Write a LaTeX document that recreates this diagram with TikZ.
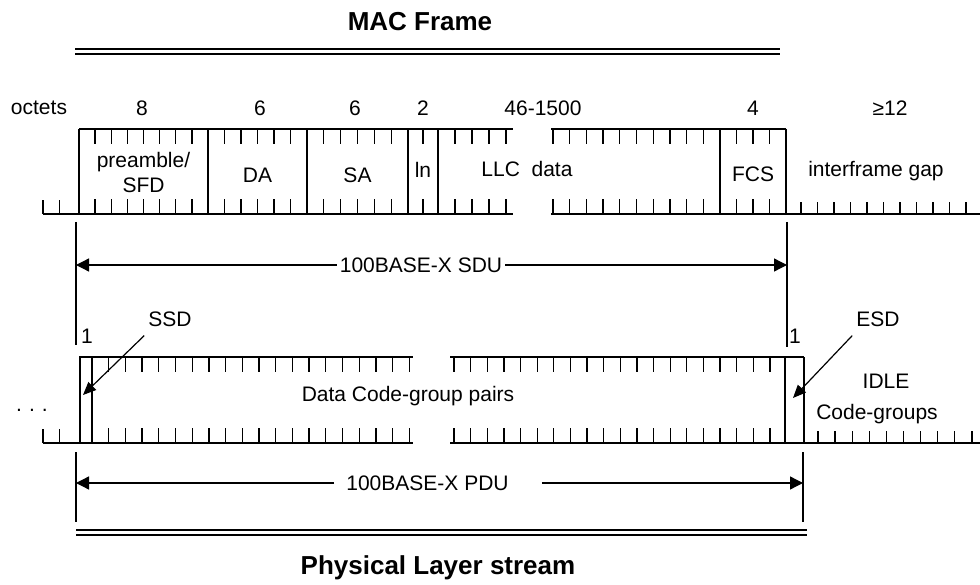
\documentclass[tikz,border=0pt]{standalone}
\usepackage{fontspec}
\setmainfont{Liberation Sans}
\usetikzlibrary{arrows.meta}
\begin{document}
\begin{tikzpicture}[x=1pt,y=-1pt,
  every node/.style={inner sep=0pt, font=\fontsize{21}{25}\selectfont},
  ln/.style={line width=1.3pt},
  dbl/.style={line width=1.2pt},
  titlefont/.style={font=\fontsize{26}{30}\selectfont\bfseries},
  arr/.style={line width=1.3pt,-{Triangle[length=13pt,width=13pt]}},
  arrs/.style={line width=1.2pt,-{Triangle[length=13pt,width=11pt]}},
]
\useasboundingbox (0,0) rectangle (980,585);

% ---------- title MAC Frame ----------
\node[titlefont] (mac) at (420,22) {MAC Frame};
\draw[dbl] (75,49) -- (780,49);
\draw[dbl] (75,54) -- (780,54);

% ---------- octet counts ----------
\node (oct) at (39,108) {octets};
\node (n8) at (142,108) {8};
\node (n6a) at (260,108) {6};
\node (n6b) at (355,108) {6};
\node (n2) at (423,108) {2};
\node (n46) at (543,108) {46-1500};
\node (n4) at (753,108) {4};
\node (n12) at (890,108) {≥12};

% ---------- MAC frame row ----------
\draw[ln] (79,129) -- (513,129);
\draw[ln] (551,129) -- (786,129);
\draw[ln] (43,214) -- (513,214);
\draw[ln] (551,214) -- (980,214);
\foreach \x in {79,208,307,408,438,720,786}
  \draw[ln] (\x,129) -- (\x,214);
% ticks inside the frame (top and bottom)
\foreach \k in {1,...,7}
  \draw[ln] ({79+16.125*\k},129) -- ++(0,15) ({79+16.125*\k},214) -- ++(0,-15);
\foreach \k in {1,...,5}
  \draw[ln] ({208+16.5*\k},129) -- ++(0,15) ({208+16.5*\k},214) -- ++(0,-15);
\foreach \k in {1,...,5}
  \draw[ln] ({307+16.83*\k},129) -- ++(0,15) ({307+16.83*\k},214) -- ++(0,-15);
\draw[ln] (423,129) -- ++(0,15) (423,214) -- ++(0,-15);
\foreach \k in {1,...,4}
  \draw[ln] ({438+17*\k},129) -- ++(0,15) ({438+17*\k},214) -- ++(0,-15);
\foreach \k in {1,...,10}
  \draw[ln] ({720-16.7*\k},129) -- ++(0,15) ({720-16.7*\k},214) -- ++(0,-15);
\foreach \k in {1,...,3}
  \draw[ln] ({720+16.5*\k},129) -- ++(0,15) ({720+16.5*\k},214) -- ++(0,-15);
% ticks outside the frame
\foreach \x in {43,59.5}
  \draw[ln] (\x,214) -- ++(0,-14);
\foreach \k in {0,...,10}
  \draw[ln] ({801+16.5*\k},214) -- ++(0,-12);

% field labels
\node[align=center] (pre) at (143.5,172) {preamble/\\SFD};
\node (da) at (257.5,175) {DA};
\node (sa) at (357.5,175) {SA};
\node (lnf) at (423,170) {ln};
\node (llc) at (527,169) {LLC\ \ data};
\node (fcs) at (753,174) {FCS};
\node (ifg) at (876,171) {interframe gap};

% ---------- SDU ----------
\draw[ln] (76,222) -- (76,345);
\draw[ln] (787,222) -- (787,347);
\coordinate (sduL) at (76,265);
\coordinate (sduR) at (787,265);
\node[inner xsep=3pt] (sdu) at (421,265) {100BASE-X SDU};
\draw[arr] (sdu.west) -- (sduL);
\draw[arr] (sdu.east) -- (sduR);
\node (one1) at (87,336) {1};
\node (one2) at (795,336) {1};

% ---------- SSD / ESD ----------
\node (ssd) at (170,319) {SSD};
\node (esd) at (878,319) {ESD};
\coordinate (ssdT) at (83,395);
\coordinate (esdT) at (793,398);
\draw[arrs] (ssd.south west) ++(-4,9) -- (ssdT);
\draw[arrs] (esd.south west) ++(-4,9) -- (esdT);

% ---------- physical layer row ----------
\draw[ln] (79,357) -- (413,357);
\draw[ln] (450,357) -- (804,357);
\draw[ln] (43,443) -- (413,443);
\draw[ln] (450,443) -- (980,443);
\foreach \x in {80,92,785,804}
  \draw[ln] (\x,357) -- (\x,443);
\foreach \k in {1,...,19}
  \draw[ln] ({92+16.7*\k},357) -- ++(0,15) ({92+16.7*\k},443) -- ++(0,-15);
\foreach \k in {0,...,19}
  \draw[ln] ({454+16.63*\k},357) -- ++(0,15) ({454+16.63*\k},443) -- ++(0,-15);
\foreach \x in {43,59.5}
  \draw[ln] (\x,443) -- ++(0,-14);
\foreach \k in {0,...,9}
  \draw[ln] ({818+17.1*\k},443) -- ++(0,-12);

\node (dots) at (32,410) {.\,\,.\,\,.};
\node (dcg) at (408,396) {Data Code-group pairs};
\node (idle) at (886,381) {IDLE};
\node (cg) at (877,414) {Code-groups};

% ---------- PDU ----------
\draw[ln] (76,452) -- (76,522);
\draw[ln] (803,452) -- (803,522);
\coordinate (pduL) at (76,483);
\coordinate (pduR) at (803,483);
\node (pdu) at (427.5,483) {100BASE-X PDU};
\draw[arr] (pdu.west) ++(-12,0) -- (pduL);
\draw[arr] (pdu.east) ++(33,0) -- (pduR);

% ---------- Physical Layer stream ----------
\draw[dbl] (76,530) -- (807,530);
\draw[dbl] (76,535) -- (807,535);
\node[titlefont] (pls) at (438,568) {Physical Layer stream};
\end{tikzpicture}
\end{document}
